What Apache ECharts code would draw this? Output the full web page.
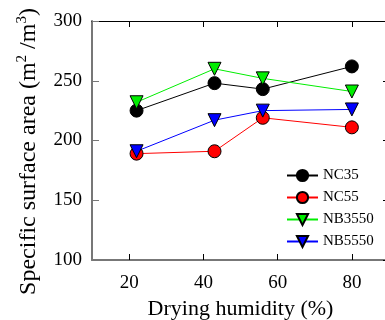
<!DOCTYPE html>
<html>
<head>
<meta charset="utf-8">
<script src="https://cdn.jsdelivr.net/npm/echarts@6/dist/echarts.min.js"></script>
<style>
  html, body { margin: 0; padding: 0; background: #fff; }
  #chart { width: 385px; height: 320px; }
</style>
</head>
<body>
<div id="chart"></div>
<script>
var humidity = [22, 43, 56, 80];
var nc35 = [225, 248, 243, 262];
var nc55 = [189, 191, 219, 211];
var nb3550 = [232, 260, 252, 241];
var nb5550 = [191, 217, 225, 226];
var xTicks = [20, 40, 60, 80];

var serif = 'Liberation Serif';

function pairs(ys) {
  return humidity.map(function(x, i) { return [x, ys[i]]; });
}

function makeSeries(name, ys, color, symbol) {
  return {
    name: name,
    type: 'line',
    data: pairs(ys),
    symbol: symbol,
    symbolSize: 13,
    symbolRotate: symbol === 'triangle' ? 180 : 0,
    lineStyle: { color: color, width: 1 },
    itemStyle: { color: color, borderColor: '#000', borderWidth: 1 },
    emphasis: { disabled: true }
  };
}

var chart = echarts.init(document.getElementById('chart'));
chart.setOption({
  animation: false,
  grid: { left: 92, top: 21, width: 297, height: 239, outerBoundsMode: 'none', containLabel: false },
  legend: {
    left: 281,
    top: 163,
    orient: 'vertical',
    itemWidth: 31,
    itemHeight: 14,
    itemGap: 7,
    textStyle: { fontFamily: serif, fontSize: 15, color: '#000' },
    data: ['NC35', 'NC55', 'NB3550', 'NB5550']
  },
  xAxis: [
    {
      type: 'value',
      min: 10,
      max: 90,
      position: 'bottom',
      name: 'Drying humidity (%)',
      nameLocation: 'middle',
      nameGap: 37,
      nameTextStyle: { fontFamily: serif, fontSize: 22, color: '#000' },
      axisLine: { lineStyle: { color: '#777', width: 2 } },
      axisTick: { inside: true, length: 6, customValues: xTicks, lineStyle: { color: '#000' } },
      axisLabel: { customValues: xTicks, margin: 14, fontFamily: serif, fontSize: 19, color: '#000' },
      splitLine: { show: false }
    },
    {
      type: 'value',
      min: 10,
      max: 90,
      position: 'top',
      axisLine: { lineStyle: { color: '#000', width: 1 } },
      axisTick: { inside: true, length: 6, customValues: xTicks, lineStyle: { color: '#000' } },
      axisLabel: { show: false },
      splitLine: { show: false }
    }
  ],
  yAxis: [
    {
      type: 'value',
      min: 100,
      max: 300,
      interval: 50,
      position: 'left',
      name: '{t|Specific surface area (m}{s|2}{t| /m}{s|3}{t|)}',
      nameLocation: 'middle',
      nameGap: 50,
      nameTextStyle: {
        padding: [0, 22, 0, 0],
        rich: {
          t: { fontFamily: serif, fontSize: 24, color: '#000' },
          s: { fontFamily: serif, fontSize: 15, color: '#000', verticalAlign: 'top', padding: [0, 0, 12, 0] }
        }
      },
      axisLine: { lineStyle: { color: '#777', width: 2 } },
      axisTick: { inside: true, length: 7, lineStyle: { color: '#777' } },
      axisLabel: { margin: 10, fontFamily: serif, fontSize: 19, color: '#000' },
      splitLine: { show: false }
    },
    {
      type: 'value',
      min: 100,
      max: 300,
      interval: 50,
      position: 'right',
      axisLine: { lineStyle: { color: '#000', width: 1 } },
      axisTick: { inside: true, length: 6, lineStyle: { color: '#000' } },
      axisLabel: { show: false },
      splitLine: { show: false }
    }
  ],
  series: [
    makeSeries('NC35', nc35, '#000000', 'circle'),
    makeSeries('NC55', nc55, '#ff0000', 'circle'),
    makeSeries('NB3550', nb3550, '#00ee00', 'triangle'),
    makeSeries('NB5550', nb5550, '#0000ff', 'triangle')
  ]
});
</script>
</body>
</html>
